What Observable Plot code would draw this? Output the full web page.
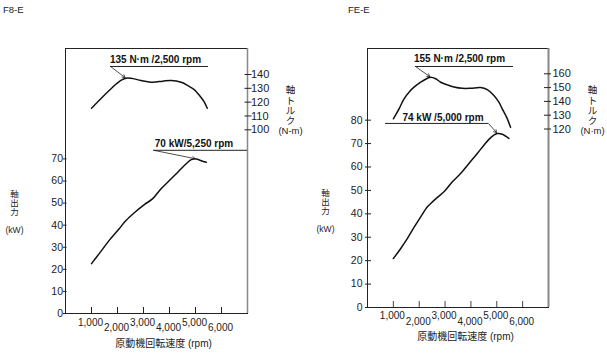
<!DOCTYPE html>
<html>
<head>
<meta charset="utf-8">
<script src="https://cdn.jsdelivr.net/npm/d3@7"></script>
<script src="https://cdn.jsdelivr.net/npm/@observablehq/plot@0.6"></script>
<style>
  html, body { margin: 0; padding: 0; background: #fff; }
  #wrap { position: relative; width: 607px; height: 357px; overflow: hidden; background: #fff;
          font-family: "Liberation Sans", Arial, "Noto Sans CJK JP", sans-serif; }
  #wrap svg { position: absolute; top: 0; }
  .ttl { position: absolute; top: 5px; font-size: 9.5px; line-height: 10px; color: #222; }
</style>
</head>
<body>
<div id="wrap"></div>
<script>
// ---------- data ----------
const panelTitles = ["F8-E", "FE-E"];
const xTicks = [1000, 2000, 3000, 4000, 5000, 6000];
const xTicksHigh = [1000, 3000, 5000];
const xTicksLow = [2000, 4000, 6000];

// F8-E
const f8PowerTicks = [0, 10, 20, 30, 40, 50, 60, 70];
const f8TorqueTicks = [100, 110, 120, 130, 140];
const f8TorqueRpm = [1000, 1811, 2131, 2324, 2517, 2903, 3355, 3741, 4066, 4448, 4707, 4961, 5154, 5324, 5452];
const f8Torque    = [115.6, 130.8, 135.7, 137.3, 137.3, 135.7, 134.4, 135.2, 135.7, 134.4, 132.0, 128.9, 124.8, 120.5, 115.6];
const f8PowerRpm  = [1000, 1295, 1681, 2066, 2324, 2645, 3031, 3355, 3676, 3996, 4320, 4641, 4834, 5027, 5220, 5413];
const f8Power     = [22.6, 27.1, 33.1, 38.4, 42.1, 45.6, 49.3, 52.0, 56.5, 60.2, 64.0, 67.8, 69.7, 70.0, 69.2, 68.5];

// FE-E
const fePowerTicks = [0, 10, 20, 30, 40, 50, 60, 70, 80];
const feTorqueTicks = [120, 130, 140, 150, 160];
const feTorqueRpm = [1000, 1220, 1413, 1606, 1799, 2058, 2317, 2444, 2637, 2830, 3089, 3344, 3668, 3988, 4375, 4633, 4888, 5081, 5212, 5378, 5533];
const feTorque    = [127.4, 134.6, 141.9, 146.7, 150.3, 153.9, 156.8, 157.5, 156.4, 153.9, 152.0, 150.5, 149.5, 149.5, 150.0, 148.5, 144.3, 139.4, 134.6, 128.6, 121.3];
const fePowerRpm  = [1000, 1286, 1544, 1799, 2058, 2317, 2444, 2703, 2958, 3282, 3602, 3923, 4247, 4502, 4695, 4888, 5019, 5212, 5467];
const fePower     = [20.9, 25.2, 29.5, 34.2, 38.7, 43.0, 44.4, 47.0, 49.4, 53.7, 57.2, 61.5, 65.8, 69.3, 71.8, 73.6, 74.3, 74.0, 72.2];

// annotation texts
const torqueNotes = ["135 N·m /2,500 rpm", "155 N·m /2,500 rpm"];
const powerNotes = ["70 kW/5,250 rpm", "74 kW /5,000 rpm"];
const powerAxisLabel = "軸\n出\n力\n\n(kW)";
const torqueAxisLabels = ["軸\nト\nル\nク\n(N-m)", "軸\nト\nル\nク\n(N·m)"];
const xAxisLabel = "原動機回転速度 (rpm)";

// ---------- drawing ----------
const FONT = '"Liberation Sans", Arial, "Noto Sans CJK JP", sans-serif';
const H = 357;
const wrap = document.getElementById("wrap");
const fmt = d3.format(",");
const pts = (xs, ys) => xs.map((x, i) => ({x, y: ys[i]}));
const peak = (xs, ys) => { const i = d3.maxIndex(ys); return {x: xs[i], y: ys[i]}; };

function place(svg, left) {
  svg.style.left = left + "px";
  wrap.appendChild(svg);
}

function drawPanel(p) {
  const style = {fontFamily: FONT, background: "none", overflow: "visible", color: "#222"};
  const frameH = H - p.mTop - p.mBottom;
  const pPeak = peak(p.powerRpm, p.power);
  const tPeak = peak(p.torqueRpm, p.torque);

  const powerPlot = Plot.plot({
    width: p.width, height: H,
    marginLeft: p.mLeft, marginRight: p.mRight, marginTop: p.mTop, marginBottom: p.mBottom,
    x: {domain: [0, 7000]},
    y: {domain: [0, p.powerMax]},
    style,
    marks: [
      Plot.frame({stroke: "#222", strokeWidth: 1}),
      Plot.ruleX([7000], {stroke: "#888", strokeWidth: p.rightBorderWidth}),
      Plot.ruleX(xTicks, {insetTop: frameH - 6, stroke: p.xTickColor}),
      Plot.axisX({ticks: xTicksHigh, tickSize: 0, tickPadding: p.padHigh, tickFormat: fmt, fontSize: 10, label: null, dx: -1}),
      Plot.axisX({ticks: xTicksLow, tickSize: 0, tickPadding: 10, tickFormat: fmt, fontSize: 10, label: null, dx: -1}),
      Plot.axisY({ticks: p.powerTicks, anchor: "left", tickSize: p.pTickSize, dx: p.pTickDx, tickPadding: p.pTickPad, fontSize: 10.5, label: null, tickFormat: d => d}),
      Plot.line(pts(p.powerRpm, p.power), {x: "x", y: "y", curve: "catmull-rom", stroke: "#111", strokeWidth: 1.5}),
      Plot.ruleY([p.pNote.y], {x1: p.pNote.x1, x2: p.pNote.x2, stroke: "#222", strokeWidth: 1}),
      Plot.text([p.powerNote], {x: p.pNote.tx, y: p.pNote.ty, fontWeight: "bold", fontSize: 10, fill: "#111"}),
      Plot.arrow([pPeak], {x1: p.pNote.ax, y1: p.pNote.y, x2: "x", y2: "y", stroke: "#222", strokeWidth: 0.8, headLength: 6, insetEnd: 1}),
      Plot.text([powerAxisLabel], {frameAnchor: "left", textAnchor: "middle", dx: p.kwDx, dy: p.kwDy, fontSize: 8.5, lineHeight: 1.05, fill: "#222"}),
      Plot.text([xAxisLabel], {frameAnchor: "bottom", textAnchor: "middle", dx: p.xlDx, dy: p.xlDy, fontSize: 10, fill: "#222"})
    ]
  });
  place(powerPlot, p.left);

  const torquePlot = Plot.plot({
    width: p.width, height: H,
    marginLeft: p.mLeft, marginRight: p.mRight, marginTop: p.tTop, marginBottom: H - p.tBottom,
    x: {domain: [0, 7000], axis: null},
    y: {domain: p.torqueDomain},
    style,
    marks: [
      Plot.axisY({ticks: p.torqueTicks, anchor: "right", tickSize: 7, dx: p.tTickDx, tickPadding: p.tTickPad, fontSize: 11, label: null, stroke: "#222", tickFormat: d => d}),
      Plot.line(pts(p.torqueRpm, p.torque), {x: "x", y: "y", curve: "catmull-rom", stroke: "#111", strokeWidth: 1.5}),
      Plot.ruleY([p.tNote.y], {x1: p.tNote.x1, x2: p.tNote.x2, stroke: "#222", strokeWidth: 1}),
      Plot.text([p.torqueNote], {x: p.tNote.tx, y: p.tNote.ty, fontWeight: "bold", fontSize: 10, fill: "#111"}),
      Plot.arrow([tPeak], {x1: p.tNote.ax, y1: p.tNote.y, x2: "x", y2: "y", stroke: "#222", strokeWidth: 0.8, headLength: 6, insetEnd: 1}),
      Plot.text([p.torqueLabel], {frameAnchor: "right", textAnchor: "middle", dx: p.nmDx, dy: p.nmDy, fontSize: 9.5, lineHeight: 1.07, fill: "#222"})
    ]
  });
  place(torquePlot, p.left);

  const t = document.createElement("div");
  t.className = "ttl";
  t.style.left = p.titleLeft + "px";
  t.textContent = p.title;
  wrap.appendChild(t);
}

drawPanel({
  title: panelTitles[0], titleLeft: 3,
  left: 0, width: 303, mLeft: 65, mRight: 56, mTop: 48, mBottom: 44,
  powerMax: 120, powerTicks: f8PowerTicks, powerRpm: f8PowerRpm, power: f8Power,
  pTickSize: 3.5, pTickDx: 1.5, pTickPad: 0.5, padHigh: 5,
  rightBorderWidth: 1.5, xTickColor: "#222",
  torqueDomain: [100, 140], tTop: 74, tBottom: 129.3, torqueTicks: f8TorqueTicks,
  torqueRpm: f8TorqueRpm, torque: f8Torque, tTickDx: -3.5, tTickPad: 0,
  powerNote: powerNotes[0], pNote: {y: 73.9, x1: 3396, x2: 7000, ax: 3396, tx: 4942, ty: 76.8},
  torqueNote: torqueNotes[0], tNote: {y: 145.8, x1: 1731, x2: 5500, ax: 1731, tx: 3462, ty: 150.5},
  torqueLabel: torqueAxisLabels[0],
  kwDx: -51, kwDy: 31, nmDx: 43, nmDy: 8.4, xlDx: 7, xlDy: 33
});

drawPanel({
  title: panelTitles[1], titleLeft: 348,
  left: 303, width: 304, mLeft: 64, mRight: 59, mTop: 48, mBottom: 50,
  powerMax: 110.6, powerTicks: fePowerTicks, powerRpm: fePowerRpm, power: fePower,
  pTickSize: 6, pTickDx: 4, pTickPad: 3, padHigh: 4.5,
  rightBorderWidth: 2, xTickColor: "#444",
  torqueDomain: [120, 160], tTop: 73.3, tBottom: 128.5, torqueTicks: feTorqueTicks,
  torqueRpm: feTorqueRpm, torque: feTorque, tTickDx: -5, tTickPad: 2,
  powerNote: powerNotes[1], pNote: {y: 78.6, x1: 696, x2: 4680, ax: 4680, tx: 2920, ty: 81.1},
  torqueNote: torqueNotes[1], tNote: {y: 165.3, x1: 1856, x2: 5646, ax: 1856, tx: 3558, ty: 171.1},
  torqueLabel: torqueAxisLabels[1],
  kwDx: -42, kwDy: 33, nmDx: 44, nmDy: 9.1, xlDx: 7.5, xlDy: 32.3
});
</script>
</body>
</html>
